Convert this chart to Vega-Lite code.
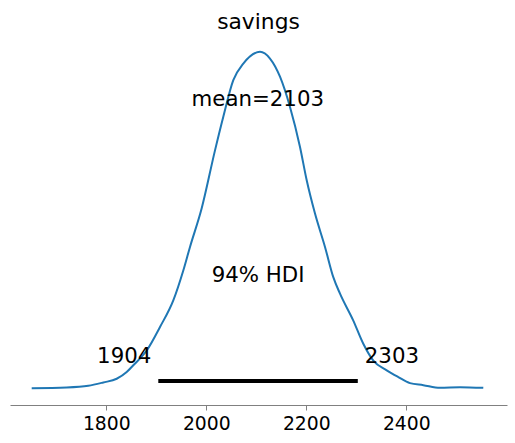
{
  "$schema": "https://vega.github.io/schema/vega-lite/v6.json",
  "width": 497,
  "height": 370,
  "padding": {"left": 10, "top": 35, "right": 8, "bottom": 38},
  "autosize": {"type": "none"},
  "title": {"text": "savings", "fontSize": 21.8, "font": "DejaVu Sans", "fontWeight": "normal", "color": "black", "anchor": "middle", "baseline": "alphabetic", "offset": -15.5},
  "config": {"view": {"stroke": null}, "font": "DejaVu Sans"},
  "datasets": {
    "kde": [
      {"x": 1650.8, "y": 0.0},
      {"x": 1720.8, "y": 0.002},
      {"x": 1764, "y": 0.007},
      {"x": 1794, "y": 0.017},
      {"x": 1820.8, "y": 0.028},
      {"x": 1840.8, "y": 0.048},
      {"x": 1854, "y": 0.068},
      {"x": 1880.8, "y": 0.112},
      {"x": 1907.4, "y": 0.182},
      {"x": 1934, "y": 0.261},
      {"x": 1954, "y": 0.35},
      {"x": 1967.4, "y": 0.42},
      {"x": 1990.8, "y": 0.535},
      {"x": 2017.4, "y": 0.707},
      {"x": 2034, "y": 0.807},
      {"x": 2054, "y": 0.916},
      {"x": 2074, "y": 0.965},
      {"x": 2107.4, "y": 1.0},
      {"x": 2127.4, "y": 0.98},
      {"x": 2147.4, "y": 0.926},
      {"x": 2167.4, "y": 0.836},
      {"x": 2187.4, "y": 0.717},
      {"x": 2200.8, "y": 0.618},
      {"x": 2217.4, "y": 0.519},
      {"x": 2237.4, "y": 0.42},
      {"x": 2254, "y": 0.33},
      {"x": 2267.4, "y": 0.281},
      {"x": 2294, "y": 0.201},
      {"x": 2314, "y": 0.132},
      {"x": 2334, "y": 0.082},
      {"x": 2360.8, "y": 0.053},
      {"x": 2384, "y": 0.033},
      {"x": 2407.4, "y": 0.015},
      {"x": 2434, "y": 0.009},
      {"x": 2467.4, "y": 0.001},
      {"x": 2507.4, "y": 0.003},
      {"x": 2554, "y": 0.001}
    ],
    "hdi": [{"x": 1904, "x2": 2303, "y": 0.021}],
    "center": [
      {"x": 2103, "y": 0.84, "text": "mean=2103"},
      {"x": 2103.5, "y": 0.315, "text": "94% HDI"}
    ],
    "low": [{"x": 1904, "y": 0.0735, "text": "1904"}],
    "high": [{"x": 2303, "y": 0.0735, "text": "2303"}]
  },
  "layer": [
    {
      "data": {"name": "kde"},
      "mark": {"type": "line", "color": "#1f77b4", "strokeWidth": 2, "interpolate": "monotone"},
      "encoding": {
        "x": {"field": "x", "type": "quantitative",
              "scale": {"domain": [1607.4, 2601.4], "nice": false, "zero": false},
              "axis": {"title": null, "values": [1800, 2000, 2200, 2400], "format": "d", "grid": false,
                       "domainColor": "#808080", "tickColor": "#808080", "tickSize": 5, "domainWidth": 1, "tickWidth": 1,
                       "labelFontSize": 18.8, "labelColor": "black", "labelFont": "DejaVu Sans", "labelPadding": 4.5}},
        "y": {"field": "y", "type": "quantitative", "scale": {"domain": [-0.05, 1.05], "nice": false, "zero": false}, "axis": null}
      }
    },
    {
      "data": {"name": "hdi"},
      "mark": {"type": "rule", "color": "black", "strokeWidth": 4},
      "encoding": {
        "x": {"field": "x", "type": "quantitative"},
        "x2": {"field": "x2"},
        "y": {"field": "y", "type": "quantitative"}
      }
    },
    {
      "data": {"name": "center"},
      "mark": {"type": "text", "align": "center", "baseline": "alphabetic", "fontSize": 21.3, "font": "DejaVu Sans", "color": "black"},
      "encoding": {
        "x": {"field": "x", "type": "quantitative"},
        "y": {"field": "y", "type": "quantitative"},
        "text": {"field": "text"}
      }
    },
    {
      "data": {"name": "low"},
      "mark": {"type": "text", "align": "right", "baseline": "alphabetic", "dx": -7, "fontSize": 21.3, "font": "DejaVu Sans", "color": "black"},
      "encoding": {
        "x": {"field": "x", "type": "quantitative"},
        "y": {"field": "y", "type": "quantitative"},
        "text": {"field": "text"}
      }
    },
    {
      "data": {"name": "high"},
      "mark": {"type": "text", "align": "left", "baseline": "alphabetic", "dx": 7, "fontSize": 21.3, "font": "DejaVu Sans", "color": "black"},
      "encoding": {
        "x": {"field": "x", "type": "quantitative"},
        "y": {"field": "y", "type": "quantitative"},
        "text": {"field": "text"}
      }
    }
  ]
}
